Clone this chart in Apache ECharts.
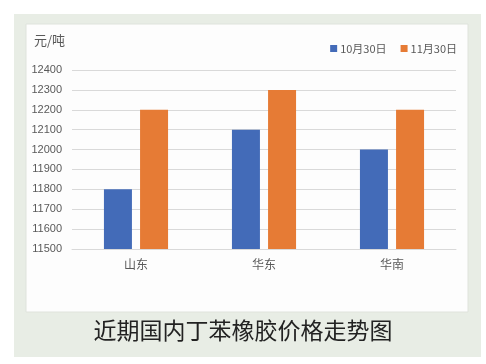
<!DOCTYPE html>
<html><head><meta charset="utf-8">
<script src="https://cdn.jsdelivr.net/npm/echarts@6/dist/echarts.min.js"></script>
<style>html,body{margin:0;padding:0;background:#fff;}#c{width:486px;height:364px;}</style>
</head><body><div id="c"></div>
<script>
const categories = ['山东', '华东', '华南'];
const seriesNames = ['10月30日', '11月30日'];
const oct30 = [11800, 12100, 12000];
const nov30 = [12200, 12300, 12200];
const yMin = 11500, yMax = 12400, yStep = 100;

const chart = echarts.init(document.getElementById('c'), null, {renderer: 'canvas'});
chart.setOption({
  animation: false,
  backgroundColor: '#ffffff',
  graphic: [
    {type: 'rect', z: -10, shape: {x: 14, y: 14, width: 467, height: 343}, style: {fill: '#e8ede5'}},
    {type: 'rect', z: -9, shape: {x: 26, y: 24, width: 442, height: 288}, style: {fill: '#fdfdfd', stroke: '#dfe3dc', lineWidth: 1}},
    {type: 'text', left: 'center', top: 319, style: {text: '近期国内丁苯橡胶价格走势图', fill: '#222', font: '23px "Noto Sans CJK SC"'}},
    {type: 'text', left: 34, top: 34, style: {text: '元/吨', fill: '#595959', font: '13px "Noto Sans CJK SC"'}}
  ],
  legend: {
    data: seriesNames, right: 24, top: 38, itemWidth: 7, itemHeight: 7, itemGap: 14,
    icon: 'rect', textStyle: {color: '#595959', fontSize: 11, fontFamily: 'Noto Sans CJK SC', padding: [0, 0, 0, -2]}
  },
  grid: {left: 72, right: 30, top: 70, bottom: 115, containLabel: false},
  xAxis: {
    type: 'category', data: categories,
    axisLine: {lineStyle: {color: '#d9d9d9'}}, axisTick: {show: false},
    axisLabel: {color: '#595959', fontSize: 12, margin: 9, fontFamily: 'Noto Sans CJK SC'}
  },
  yAxis: {
    type: 'value', min: yMin, max: yMax, interval: yStep,
    axisLine: {show: false}, axisTick: {show: false},
    splitLine: {lineStyle: {color: '#d9d9d9'}},
    axisLabel: {color: '#595959', fontSize: 11, margin: 10, fontFamily: 'Liberation Sans', formatter: v => String(v)}
  },
  series: [
    {name: seriesNames[0], type: 'bar', data: oct30, barWidth: 28, barGap: '29%', itemStyle: {color: '#436bb8'}},
    {name: seriesNames[1], type: 'bar', data: nov30, barWidth: 28, itemStyle: {color: '#e67b35'}}
  ]
});
</script></body></html>
